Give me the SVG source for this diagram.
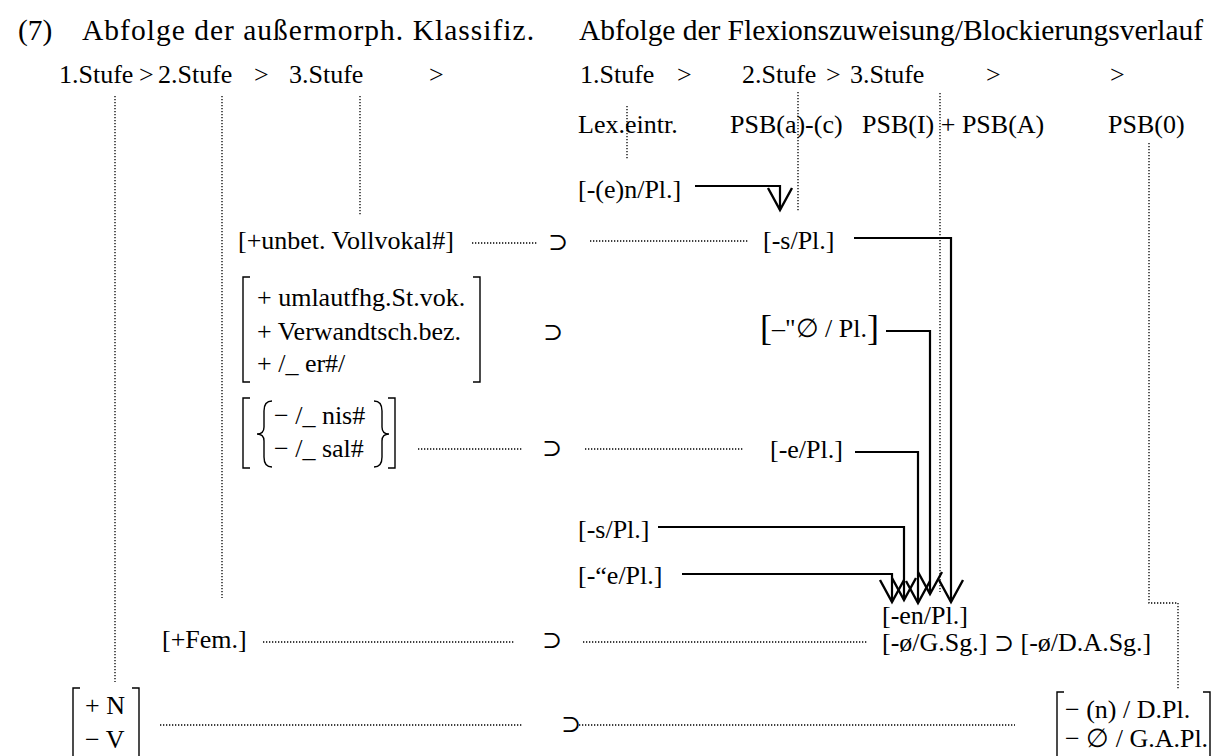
<svg xmlns="http://www.w3.org/2000/svg" width="1217" height="756" viewBox="0 0 1217 756">
<style>
text{font-family:"Liberation Serif","Times New Roman","DejaVu Serif",serif;fill:#000}
.h{font-size:29.5px}
.t{font-size:26px}
.sup{font-size:24px;font-family:"DejaVu Serif","Liberation Serif",serif}
.dot{fill:none;stroke:#000;stroke-width:1.3;stroke-dasharray:1.3 1.7}
.sol{fill:none;stroke:#000;stroke-width:2.2}
.br{fill:none;stroke:#000;stroke-width:1.4}
</style>
<defs>
<marker id="ah" markerUnits="userSpaceOnUse" markerWidth="30" markerHeight="30" viewBox="-25 -15 30 30" refX="0" refY="0" orient="auto">
<path d="M-22,-12 L0,0 L-22,12" fill="none" stroke="#000" stroke-width="2.4"/>
</marker>
</defs>
<rect width="1217" height="756" fill="#fff"/>

<g id="headings">
<text class="h" x="18" y="40">(7)</text>
<text class="h" x="82" y="40" textLength="452">Abfolge der außermorph. Klassifiz.</text>
<text class="h" x="579" y="40" textLength="624">Abfolge der Flexionszuweisung/Blockierungsverlauf</text>
</g>

<g id="stufen-left">
<text class="t" x="59" y="83">1.Stufe</text>
<text class="t" x="139" y="83">&gt;</text>
<text class="t" x="158" y="83">2.Stufe</text>
<text class="t" x="254" y="83">&gt;</text>
<text class="t" x="289" y="83">3.Stufe</text>
<text class="t" x="429" y="83">&gt;</text>
</g>

<g id="stufen-right">
<text class="t" x="580" y="83">1.Stufe</text>
<text class="t" x="677" y="83">&gt;</text>
<text class="t" x="742" y="83">2.Stufe</text>
<text class="t" x="826" y="83">&gt;</text>
<text class="t" x="850" y="83">3.Stufe</text>
<text class="t" x="986" y="83">&gt;</text>
<text class="t" x="1110" y="83">&gt;</text>
</g>

<g id="psb-row">
<text class="t" x="578" y="133">Lex.eintr.</text>
<text class="t" x="730" y="133">PSB(a)-(c)</text>
<text class="t" x="862" y="133">PSB(I) + PSB(A)</text>
<text class="t" x="1108" y="133">PSB(0)</text>
</g>

<g id="n-en-pl"><text class="t" x="578" y="198">[-(e)n/Pl.]</text></g>

<g id="unbet">
<text class="t" x="238" y="249">[+unbet. Vollvokal#]</text>
<text class="sup" x="548" y="250">⊃</text>
</g>
<g id="n-s-pl-1"><text class="t" x="763" y="249">[-s/Pl.]</text></g>

<g id="umlaut">
<path class="br" d="M250,277 H243 V382 H250 M473,277 H480 V382 H473"/>
<text class="t" x="257" y="306">+ umlautfhg.St.vok.</text>
<text class="t" x="257" y="340">+ Verwandtsch.bez.</text>
<text class="t" x="257" y="372">+ /_ er#/</text>
<text class="sup" x="543" y="340">⊃</text>
</g>
<g id="n-uml-pl"><text class="t" x="760" y="337"><tspan font-size="36" dy="3">[</tspan><tspan dy="-3">–"∅ / Pl.</tspan><tspan font-size="36" dy="3">]</tspan></text></g>

<g id="nis-sal">
<path class="br" d="M250,398 H243 V468 H250 M388,398 H395 V468 H388"/>
<path class="br" d="M272,401 Q264,401 264,411 L264,427 Q264,434 257,434 Q264,434 264,441 L264,457 Q264,467 272,467"/>
<path class="br" d="M374,401 Q382,401 382,411 L382,427 Q382,434 389,434 Q382,434 382,441 L382,457 Q382,467 374,467"/>
<text class="t" x="274" y="424">− /_ nis#</text>
<text class="t" x="274" y="457">− /_ sal#</text>
<text class="sup" x="542" y="456">⊃</text>
</g>
<g id="n-e-pl"><text class="t" x="770" y="458">[-e/Pl.]</text></g>

<g id="n-s-pl-2"><text class="t" x="578" y="538">[-s/Pl.]</text></g>
<g id="n-ue-pl"><text class="t" x="578" y="584">[-“e/Pl.]</text></g>

<g id="fem">
<text class="t" x="162" y="648">[+Fem.]</text>
<text class="sup" x="542" y="648">⊃</text>
</g>
<g id="n-en-target">
<text class="t" x="882" y="624">[-en/Pl.]</text>
<text class="t" x="882" y="651">[-ø/G.Sg.] <tspan class="sup">⊃</tspan> [-ø/D.A.Sg.]</text>
</g>

<g id="nv">
<path class="br" d="M80,688 H73 V760 M132,688 H139 V760"/>
<text class="t" x="85" y="714">+ N</text>
<text class="t" x="85" y="748">− V</text>
<text class="sup" x="561" y="732">⊃</text>
</g>
<g id="n-dat">
<path class="br" d="M1064,692 H1057 V760 M1203,692 H1210 V760"/>
<text class="t" x="1065" y="718">− (n) / D.Pl.</text>
<text class="t" x="1065" y="747">− ∅ / G.A.Pl.</text>
</g>

<g id="connectors">
<path class="dot" d="M115,96 V682"/>
<path class="dot" d="M222,96 V598"/>
<path class="dot" d="M360,96 V215"/>
<path class="dot" d="M627,106 V160"/>
<path class="dot" d="M798,92 V212"/>
<path class="dot" d="M940,93 V592"/>
<path class="dot" d="M1149,143 V603 H1178 V690"/>
<path class="dot" d="M472,243 H538"/>
<path class="dot" d="M590,241 H748"/>
<path class="dot" d="M418,449 H522"/>
<path class="dot" d="M585,449 H743"/>
<path class="dot" d="M263,642 H514"/>
<path class="dot" d="M583,642 H867"/>
<path class="dot" d="M160,725 H522"/>
<path class="dot" d="M579,725 H1015"/>
<path class="sol" d="M695,186 H780 V210" marker-end="url(#ah)"/>
<path class="sol" d="M854,238 H951 V602" marker-end="url(#ah)"/>
<path class="sol" d="M886,331 H930 V594" marker-end="url(#ah)"/>
<path class="sol" d="M855,452 H918 V603" marker-end="url(#ah)"/>
<path class="sol" d="M658,527 H904 V600" marker-end="url(#ah)"/>
<path class="sol" d="M682,574 H892 V602" marker-end="url(#ah)"/>
</g>
</svg>
